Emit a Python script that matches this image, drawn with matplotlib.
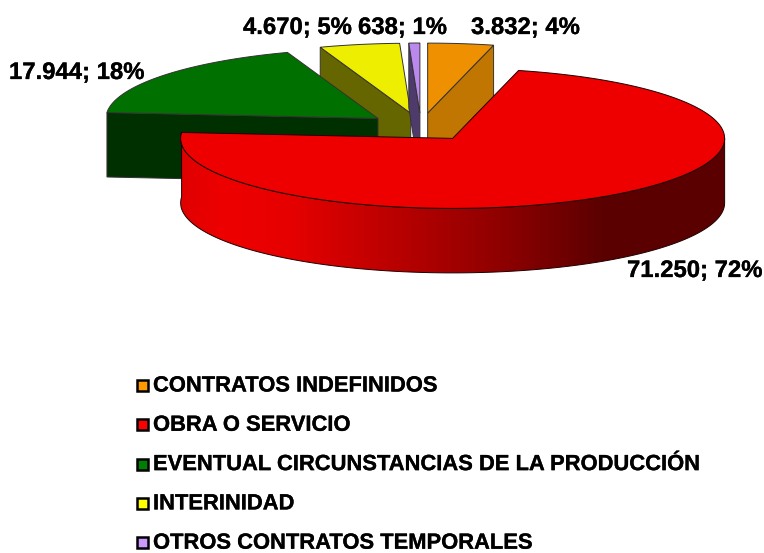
import numpy as np
import matplotlib
matplotlib.use('Agg')
import matplotlib.pyplot as plt
import matplotlib.patheffects as pe
from matplotlib.patches import Polygon, Rectangle

plt.rcParams['font.family'] = ['Liberation Sans', 'DejaVu Sans']

# chart data
categories = ['CONTRATOS INDEFINIDOS', 'OBRA O SERVICIO',
              'EVENTUAL CIRCUNSTANCIAS DE LA PRODUCCIÓN', 'INTERINIDAD',
              'OTROS CONTRATOS TEMPORALES']
values = [3832, 71250, 17944, 4670, 638]
value_labels = ['3.832', '71.250', '17.944', '4.670', '638']
pct_labels = ['4%', '72%', '18%', '5%', '1%']

top_colors = ['#EE9000', '#EE0000', '#007000', '#EEEE00', '#BB88EE']
side_colors = ['#C07600', '#EE0000', '#003000', '#666600', '#4F3B6B']
legend_colors = ['#FF9900', '#FF0000', '#008000', '#FFFF00', '#CC99FF']
label_pos = [(471, 27.5), (627, 270.5), (9, 72.5), (243, 27.5), (358, 27.5)]

# pie geometry, in pixels
cx, cy = 421, 127
rx, ry = 272, 70
depth = 64.5
explode = 0.2
edge = '#333333'

fig = plt.figure(figsize=(7.64, 5.53), dpi=100)
ax = fig.add_axes([0, 0, 1, 1])
ax.set_xlim(0, 764)
ax.set_ylim(553, 0)
ax.axis('off')

angles = np.cumsum([0] + values) / sum(values) * 360
bold = [pe.withStroke(linewidth=0.2, foreground='black')]


def rim(x0, y0, a0, a1, n=200):
    t = np.radians(np.linspace(a0, a1, n))
    return np.column_stack([x0 + rx * np.sin(t), y0 - ry * np.cos(t)])


def draw_slice(i, wall_angle=None, z=1):
    a0, a1 = angles[i], angles[i + 1]
    mid = np.radians((a0 + a1) / 2)
    x0 = cx + explode * rx * np.sin(mid)
    y0 = cy - explode * ry * np.cos(mid)
    if wall_angle is not None:
        p = rim(x0, y0, wall_angle, wall_angle, 1)[0]
        wall = [(x0, y0), p, (p[0], p[1] + depth), (x0, y0 + depth)]
        ax.add_patch(Polygon(wall, fc=side_colors[i], ec=edge, lw=0.7, zorder=z))
    top = np.vstack([[(x0, y0)], rim(x0, y0, a0, a1)])
    ax.add_patch(Polygon(top, fc=top_colors[i], ec=edge, lw=0.7, zorder=z + 0.5))


draw_slice(3, wall_angle=angles[3], z=1)
draw_slice(4, wall_angle=angles[4], z=2)
draw_slice(0, wall_angle=angles[1], z=3)
draw_slice(2, wall_angle=angles[2], z=4)

# red slice: side with a left to right shading
mid = np.radians((angles[1] + angles[2]) / 2)
x0 = cx + explode * rx * np.sin(mid)
y0 = cy - explode * ry * np.cos(mid)
r = rim(x0, y0, 90, angles[2])
side = Polygon(np.vstack([r, (r + [0, depth])[::-1]]), fc='none', ec='#200000', lw=0.7, zorder=5)
ax.add_patch(side)
stops = [0, 0.08, 0.2, 0.4, 0.6, 0.78, 1]
reds = [0xE0, 0xEE, 0xE6, 0xB8, 0x8C, 0x5A, 0x5C]
xs = np.linspace(0, 1, 256)
grad = np.zeros((1, 256, 3))
grad[0, :, 0] = np.interp(xs, stops, reds) / 255
im = ax.imshow(grad, extent=(r[:, 0].min(), r[:, 0].max(), y0 + ry + depth, y0 - ry),
               aspect='auto', zorder=4.9)
im.set_clip_path(side)
ax.set_xlim(0, 764)
ax.set_ylim(553, 0)
top = np.vstack([[(x0, y0)], rim(x0, y0, angles[1], angles[2])])
ax.add_patch(Polygon(top, fc=top_colors[1], ec='#200000', lw=0.7, zorder=5.5))

# data labels
for i in range(len(values)):
    ax.text(label_pos[i][0], label_pos[i][1], value_labels[i] + '; ' + pct_labels[i],
            fontsize=17.2, fontweight='bold', color='black', va='center', ha='left', zorder=7,
            path_effects=bold)

# legend
for i, name in enumerate(categories):
    y = 385.5 + i * 39.3
    ax.add_patch(Rectangle((137, y - 5.5), 10.5, 11, fc=legend_colors[i], ec='black', lw=1.8, zorder=7))
    ax.text(153, y + 0.5, name, fontsize=15.8, fontweight='bold', color='black', va='center', ha='left',
            path_effects=bold)

fig.savefig('out.png', dpi=100)
